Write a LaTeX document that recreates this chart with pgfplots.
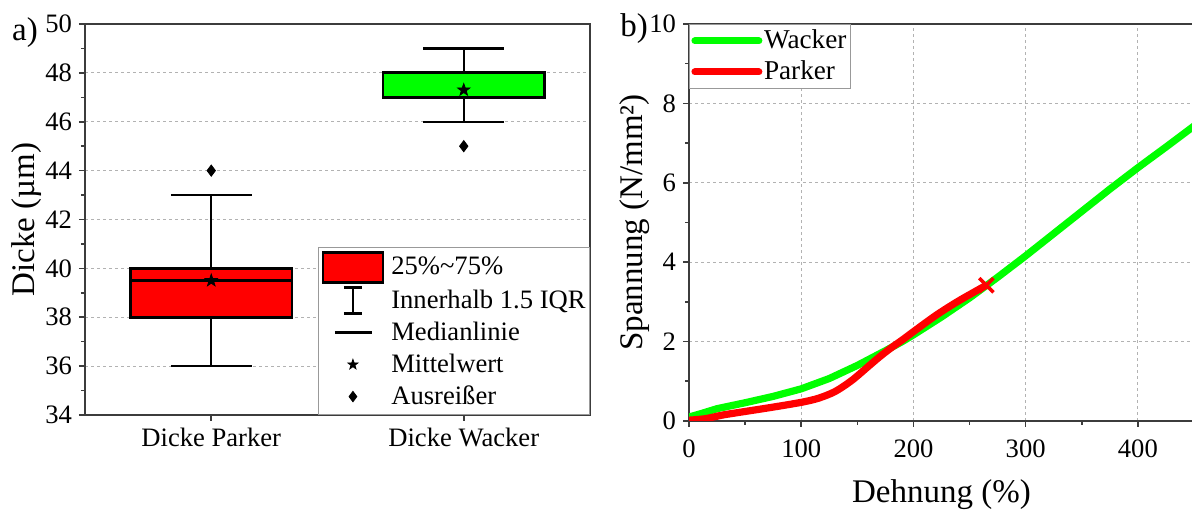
\documentclass[border=0pt]{standalone}
\usepackage{fontspec}
\setmainfont{Liberation Serif}
\usepackage{pgfplots}
\pgfplotsset{compat=1.18}
\definecolor{ogreen}{RGB}{0,255,0}
\definecolor{ored}{RGB}{255,0,0}
\definecolor{axgray}{RGB}{60,60,60}

\pgfdeclareplotmark{fstar}{%
  \pgfpathmoveto{\pgfpointpolar{90}{\pgfplotmarksize}}%
  \pgfpathlineto{\pgfpointpolar{126}{0.40\pgfplotmarksize}}%
  \pgfpathlineto{\pgfpointpolar{162}{\pgfplotmarksize}}%
  \pgfpathlineto{\pgfpointpolar{198}{0.40\pgfplotmarksize}}%
  \pgfpathlineto{\pgfpointpolar{234}{\pgfplotmarksize}}%
  \pgfpathlineto{\pgfpointpolar{270}{0.40\pgfplotmarksize}}%
  \pgfpathlineto{\pgfpointpolar{306}{\pgfplotmarksize}}%
  \pgfpathlineto{\pgfpointpolar{342}{0.40\pgfplotmarksize}}%
  \pgfpathlineto{\pgfpointpolar{18}{\pgfplotmarksize}}%
  \pgfpathlineto{\pgfpointpolar{54}{0.40\pgfplotmarksize}}%
  \pgfpathclose
  \pgfusepathqfillstroke
}

\pgfplotsset{
  common/.style={
    scale only axis,
    anchor=south west,
    tick align=outside,
    tick pos=left,
    major tick length=3pt,
    minor tick length=2pt,
    axis line style={line width=0.8pt, axgray},
    every tick/.style={line width=0.8pt, axgray},
    grid style={dash pattern=on 1.5pt off 1.5pt, black!30, line width=0.5pt},
    /pgf/number format/assume math mode=true,
    ticklabel style={font=\fontsize{13.3}{16}\selectfont, black},
    label style={font=\fontsize{16.5}{20}\selectfont},
    legend cell align=left,
  }
}

\pgfplotstableread{
x y
0 0.10
10 0.18
25 0.31
50 0.46
75 0.62
100 0.81
125 1.07
150 1.40
175 1.77
190 2.00
200 2.17
225 2.62
250 3.10
275 3.62
300 4.16
325 4.72
350 5.28
375 5.84
400 6.38
425 6.90
450 7.43
}\wacker

\pgfplotstableread{
x y
0 0.02
15 0.06
30 0.15
50 0.24
75 0.35
100 0.47
115 0.57
130 0.74
145 1.02
160 1.38
170 1.62
180 1.84
190 2.04
200 2.25
220 2.66
240 3.02
265 3.42
}\parker

\begin{document}
\begin{tikzpicture}
% ---------------- a) ----------------
\begin{axis}[common,
  at={(42.5pt,48.5pt)},
  width=252.5pt, height=195.5pt,
  xmin=0.5, xmax=2.5, ymin=34, ymax=50,
  xtick={1,2}, xticklabels={Dicke Parker, Dicke Wacker},
  ytick={34,36,...,50}, minor y tick num=1,
  ymajorgrids,
  ylabel={Dicke (µm)},
  ylabel style={at={(axis description cs:-0.115,0.5)}, anchor=center},
  legend style={at={(1,0)}, anchor=south east, draw=black!40, fill=white,
    font=\fontsize{13.3}{16}\selectfont, inner xsep=1.5pt, inner ysep=1.5pt,
    /tikz/row sep=1pt,
    nodes={inner sep=0.5pt, text depth=0.15em},
    /tikz/every odd column/.append style={column sep=3pt}},
]
% Parker box (Q1=38, Q3=40), whiskers 36 / 43, median 39.5
\addplot[forget plot, black, line width=1.2pt] coordinates {(1,36) (1,38)};
\addplot[forget plot, black, line width=1.2pt] coordinates {(1,40) (1,43)};
\addplot[forget plot, black, line width=1.2pt] coordinates {(0.84,36) (1.16,36)};
\addplot[forget plot, black, line width=1.2pt] coordinates {(0.84,43) (1.16,43)};
\addplot[forget plot, fill=ored, draw=black, line width=1.4pt] coordinates {(0.68,38) (1.32,38) (1.32,40) (0.68,40)} --cycle;
\addplot[forget plot, black, line width=1.3pt] coordinates {(0.68,39.5) (1.32,39.5)};
% Wacker box (Q1=47, Q3=48), whiskers 46 / 49
\addplot[forget plot, black, line width=1.2pt] coordinates {(2,46) (2,47)};
\addplot[forget plot, black, line width=1.2pt] coordinates {(2,48) (2,49)};
\addplot[forget plot, black, line width=1.2pt] coordinates {(1.84,46) (2.16,46)};
\addplot[forget plot, black, line width=1.2pt] coordinates {(1.84,49) (2.16,49)};
\addplot[forget plot, fill=ogreen, draw=black, line width=1.4pt] coordinates {(1.68,47) (2.32,47) (2.32,48) (1.68,48)} --cycle;
% mean and outliers
\addplot[forget plot, only marks, mark=fstar, mark size=3.2pt, black] coordinates {(1,39.5) (2,47.3)};
\addplot[forget plot, only marks, mark=diamond*, mark size=2.8pt, black] coordinates {(1,44) (2,45)};

\addlegendimage{legend image code/.code={\draw[fill=ored, line width=1.4pt] (0pt,-7.5pt) rectangle (30pt,7.5pt);}}
\addlegendentry{25\%\textasciitilde 75\%}
\addlegendimage{legend image code/.code={\path[draw=none, fill=none] (0pt,-7.5pt) rectangle (30pt,7.5pt);
  \draw[black, line width=1.1pt] (10.5pt,6.5pt)--(19.5pt,6.5pt) (15pt,6.5pt)--(15pt,-6.5pt) (10.5pt,-6.5pt)--(19.5pt,-6.5pt);}}
\addlegendentry{Innerhalb 1.5 IQR}
\addlegendimage{legend image code/.code={\path[draw=none, fill=none] (0pt,-7.5pt) rectangle (30pt,7.5pt);
  \draw[black, line width=1.1pt] (6pt,0pt)--(24.5pt,0pt);}}
\addlegendentry{Medianlinie}
\addlegendimage{legend image code/.code={\path[draw=none, fill=none] (0pt,-7.5pt) rectangle (30pt,7.5pt);
  \path[draw=black, fill=black, mark=fstar, mark size=2.6pt] plot coordinates {(15pt,0pt)};}}
\addlegendentry{Mittelwert}
\addlegendimage{legend image code/.code={\path[draw=none, fill=none] (0pt,-7.5pt) rectangle (30pt,7.5pt);
  \path[draw=black, fill=black, mark=diamond*, mark size=2.6pt] plot coordinates {(15pt,0pt)};}}
\addlegendentry{Ausreißer}
\end{axis}

% ---------------- b) ----------------
\begin{axis}[common,
  at={(344.5pt,45.5pt)},
  width=252.5pt, height=198.5pt,
  xmin=0, xmax=450, ymin=0, ymax=10,
  xtick={0,100,...,400}, minor x tick num=1,
  ytick={0,2,...,10}, minor y tick num=1,
  grid=major,
  xticklabel style={yshift=-3pt},
  xlabel={Dehnung (\%)},
  xlabel style={at={(axis description cs:0.5,-0.186)}, anchor=center},
  ylabel={Spannung (N/mm²)},
  ylabel style={at={(axis description cs:-0.107,0.5)}, anchor=center},
  legend style={at={(0,1)}, anchor=north west, draw=black!40, fill=white,
    font=\fontsize{13.6}{16}\selectfont, inner xsep=1pt, inner ysep=2pt,
    /tikz/row sep=3pt,
    nodes={inner sep=0.8pt, text depth=0.15em},
    /tikz/every odd column/.append style={column sep=0pt}},
]
\addplot[forget plot, ogreen, line width=3.6pt] table[x=x,y=y] {\wacker};
\addplot[forget plot, ored, line width=3.6pt, smooth] table[x=x,y=y] {\parker};
\addplot[forget plot, only marks, mark=x, mark size=5pt, ored, line width=1.8pt] coordinates {(265,3.42)};
\addlegendimage{legend image code/.code={\draw[ogreen, line width=3.5pt, line cap=round] (1pt,0pt)--(33pt,0pt);}}
\addlegendentry{Wacker}
\addlegendimage{legend image code/.code={\draw[ored, line width=3.5pt, line cap=round] (1pt,0pt)--(33pt,0pt);}}
\addlegendentry{Parker}
\end{axis}

\node[font=\fontsize{16.5}{20}\selectfont] at (12.5pt,239.5pt) {a)};
\node[font=\fontsize{16.5}{20}\selectfont] at (317pt,241.5pt) {b)};

\pgfresetboundingbox
\path[use as bounding box] (0,0) rectangle (596pt,256pt);
\end{tikzpicture}
\end{document}
